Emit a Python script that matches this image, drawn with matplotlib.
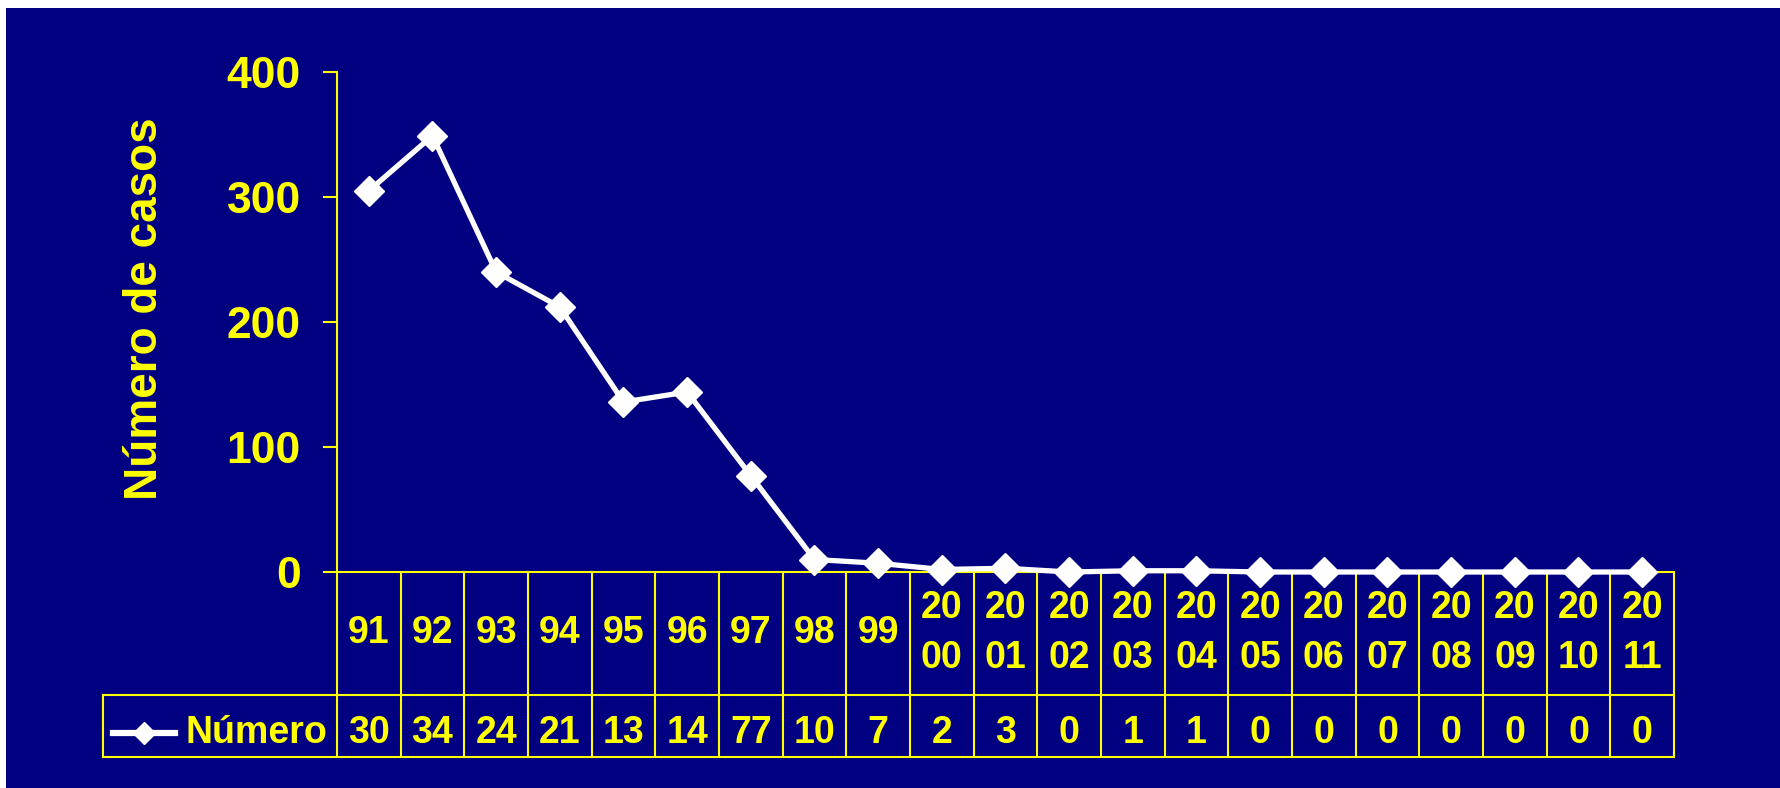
import matplotlib.pyplot as plt
from matplotlib.lines import Line2D
from matplotlib.patches import Rectangle

NAVY = "#000080"
YELLOW = "#FFFF00"
WHITE = "#FFFFFF"

plt.rcParams["font.family"] = ["Liberation Sans", "DejaVu Sans"]
plt.rcParams["font.weight"] = "bold"

# data
years = ["91", "92", "93", "94", "95", "96", "97", "98", "99",
         "20\n00", "20\n01", "20\n02", "20\n03", "20\n04", "20\n05",
         "20\n06", "20\n07", "20\n08", "20\n09", "20\n10", "20\n11"]
casos = [305, 349, 240, 212, 136, 144, 77, 10, 7, 2, 3, 0, 1, 1, 0, 0, 0, 0, 0, 0, 0]
# what the table row shows (numbers cut off by the narrow cells)
table_row = ["30", "34", "24", "21", "13", "14", "77", "10", "7", "2", "3",
             "0", "1", "1", "0", "0", "0", "0", "0", "0", "0"]
y_ticks = [0, 100, 200, 300, 400]

W, H = 1781, 788
fig = plt.figure(figsize=(W / 100, H / 100), dpi=100, facecolor="white")
fig.patches.append(Rectangle((6 / W, 0), 1, 1 - 8 / H, transform=fig.transFigure,
                             facecolor=NAVY, edgecolor="none", zorder=-5))

ax_l, ax_r, ax_t, ax_b = 337, 1674, 72, 572
ax = fig.add_axes([ax_l / W, 1 - ax_b / H, (ax_r - ax_l) / W, (ax_b - ax_t) / H])
ax.set_facecolor(NAVY)

x = list(range(len(years)))
ax.plot(x, casos, color=WHITE, lw=3.8, marker="D", ms=15, mfc=WHITE, mec=WHITE,
        clip_on=False, zorder=6)

ax.set_xlim(-0.5, len(years) - 0.5)
ax.set_ylim(0, 400)
ax.set_yticks(y_ticks)
ax.set_xticks([])
ax.tick_params(axis="y", colors=YELLOW, labelsize=32, length=10, width=1.5,
               pad=16, direction="out")
for lab in ax.get_yticklabels():
    lab.set_fontweight("bold")
for s in ["top", "right"]:
    ax.spines[s].set_visible(False)
for s in ["left", "bottom"]:
    ax.spines[s].set_color(YELLOW)
    ax.spines[s].set_linewidth(1.5)

fig.text(145 / W, 1 - 309 / H, "Número de casos", rotation=90, color=YELLOW,
         fontsize=33, fontweight="bold", ha="center", va="center")

# data table under the axis
tr = ax.get_xaxis_transform()
y_mid = (ax_b - 695) / (ax_b - ax_t)
y_bot = (ax_b - 757) / (ax_b - ax_t)
leg_left = (103 - ax_l) / (ax_r - ax_l)
lkw = dict(color=YELLOW, lw=1.5, clip_on=False, zorder=3)
for i in range(len(years) + 1):
    ax.plot([i - 0.5, i - 0.5], [0, y_bot], transform=tr, **lkw)
ax.plot([leg_left, 1], [y_mid, y_mid], transform=ax.transAxes, **lkw)
ax.plot([leg_left, 1], [y_bot, y_bot], transform=ax.transAxes, **lkw)
ax.plot([leg_left, leg_left], [y_mid, y_bot], transform=ax.transAxes, **lkw)

y_year = (ax_b - 633) / (ax_b - ax_t)
y_val = (ax_b - 733) / (ax_b - ax_t)
for i, (yr, v) in enumerate(zip(years, table_row)):
    ax.text(i, y_year, yr, transform=tr, color=YELLOW, fontsize=27,
            fontweight="bold", ha="center", va="center", linespacing=1.5)
    ax.text(i, y_val, v, transform=tr, color=YELLOW, fontsize=27,
            fontweight="bold", ha="center", va="center")

# legend key in the table
fig.lines.append(Line2D([113 / W, 175 / W], [1 - 733 / H, 1 - 733 / H],
                        transform=fig.transFigure, color=WHITE, lw=4.5))
fig.lines.append(Line2D([144 / W], [1 - 733 / H], transform=fig.transFigure,
                        marker="D", ms=11, color=WHITE, lw=0))
fig.text(186 / W, 1 - 733 / H, "Número", color=YELLOW, fontsize=27,
         fontweight="bold", ha="left", va="center")

fig.savefig("out.png", dpi=100, facecolor="white")
